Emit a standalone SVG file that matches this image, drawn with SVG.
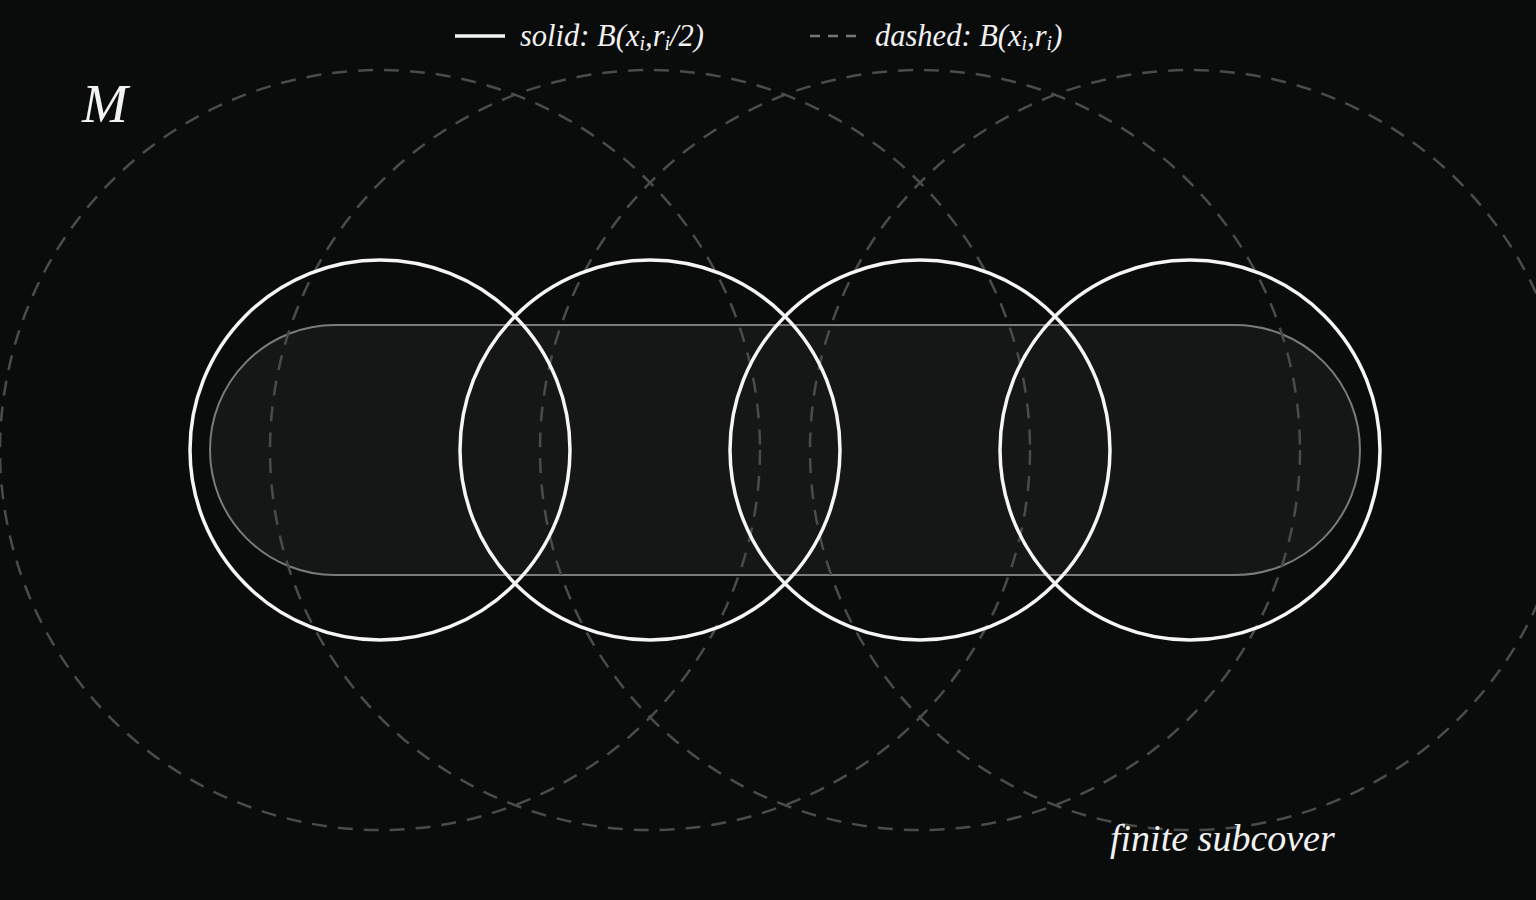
<svg xmlns="http://www.w3.org/2000/svg" width="1536" height="900" viewBox="0 0 1536 900">
<style>
.t{font-family:"Liberation Serif","DejaVu Serif",serif;font-style:italic;fill:#f2f2f2}
.big{fill:none;stroke:#4a4c4c;stroke-width:2.5;stroke-dasharray:15 11}
.small{fill:none;stroke:#f5f5f5;stroke-width:3.5}
.sub{font-size:20px}
</style>
<rect width="1536" height="900" fill="#0a0c0c"/>
<g id="set">
<rect x="210" y="325" width="1150" height="250" rx="125" ry="125" fill="#151616" stroke="#7a7b7b" stroke-width="2"/>
</g>
<g id="dashed-balls">
<circle id="B1" class="big" cx="380" cy="450" r="380"/>
<circle id="B2" class="big" cx="650" cy="450" r="380"/>
<circle id="B3" class="big" cx="920" cy="450" r="380"/>
<circle id="B4" class="big" cx="1190" cy="450" r="380"/>
</g>
<g id="solid-balls">
<circle id="b1" class="small" cx="380" cy="450" r="190"/>
<circle id="b2" class="small" cx="650" cy="450" r="190"/>
<circle id="b3" class="small" cx="920" cy="450" r="190"/>
<circle id="b4" class="small" cx="1190" cy="450" r="190"/>
</g>
<g id="legend">
<line x1="455" y1="36" x2="505" y2="36" stroke="#f5f5f5" stroke-width="3.5"/>
<text class="t" x="520" y="46" font-size="30.5">solid: B(x<tspan class="sub" dy="4">i</tspan><tspan dy="-4">,r</tspan><tspan class="sub" dy="4">i</tspan><tspan dy="-4">/2)</tspan></text>
<line x1="810" y1="36" x2="858" y2="36" stroke="#777" stroke-width="2.5" stroke-dasharray="10 8"/>
<text class="t" x="875" y="46" font-size="30.5">dashed: B(x<tspan class="sub" dy="4">i</tspan><tspan dy="-4">,r</tspan><tspan class="sub" dy="4">i</tspan><tspan dy="-4">)</tspan></text>
</g>
<text class="t" x="82" y="122" font-size="55">M</text>
<text class="t" x="1110" y="851" font-size="38">finite subcover</text>
</svg>
